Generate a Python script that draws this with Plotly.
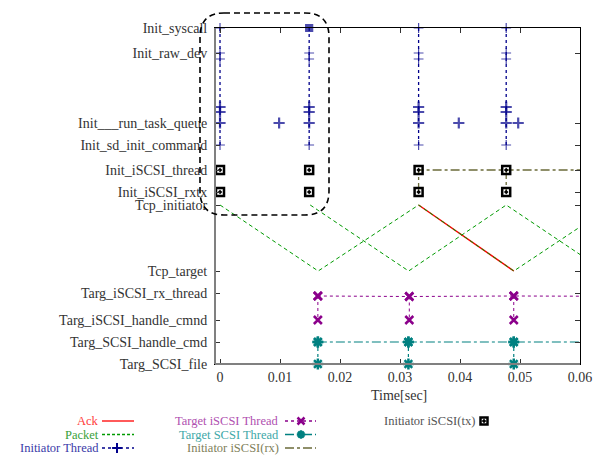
import plotly.graph_objects as go

W, H = 601, 458

# ---------------- data ----------------
row_labels = ["Targ_SCSI_file", "Targ_SCSI_handle_cmd", "Targ_iSCSI_handle_cmnd",
              "Targ_iSCSI_rx_thread", "Tcp_target", "Tcp_initiator", "Init_iSCSI_rxtx",
              "Init_iSCSI_thread", "Init_sd_init_command", "Init___run_task_queue",
              "Init_raw_dev", "Init_syscall"]
row_pos = [0, 22, 44, 71, 93, 159, 172, 194, 219, 241, 311, 336]

x_tickvals = [0, 0.01, 0.02, 0.03, 0.04, 0.05, 0.06]
x_ticktext = ["0", "0.01", "0.02", "0.03", "0.04", "0.05", "0.06"]

# Initiator thread: vertical clusters of events
init_cluster_times = [0.0, 0.01486, 0.0331, 0.0477]
init_cluster_levels = [336, 311, 305, 257, 252, 241, 219]
init_single_times = [0.00985, 0.0398, 0.0497]
init_single_level = 241

# Initiator iSCSI(tx)
tx_times = [0.0, 0.01486, 0.0331, 0.0477]
tx_levels = [194, 172]

# Initiator iSCSI(rx)
rx_t = [0.0331, 0.0331, 0.066, None, 0.0477, 0.0477]
rx_y = [172, 194, 194, None, 194, 172]

# Ack / Packet
ack_t = [0.0331, 0.04897]
ack_y = [159, 93]
packet_a_t = [0.0, 0.01636, 0.0331, 0.04897, 0.0655]
packet_a_y = [159, 93, 159, 93, 159]
packet_b_t = [0.01503, 0.03144, 0.0477, 0.0641]
packet_b_y = [159, 93, 159, 93]

# Target iSCSI thread
tiscsi_times = [0.01631, 0.03155, 0.04896]
tiscsi_rx_y = [68, 67.5, 68]
tiscsi_handle_y = 44
tiscsi_end_t, tiscsi_end_y = 0.066, 67.7

# Target SCSI thread
tscsi_times = [0.01631, 0.0314, 0.04896]
tscsi_top_y = 22
tscsi_bot_y = 0
tscsi_end_t = 0.066

# ---------------- styles ----------------
FONT = "Liberation Serif"
NAVY = "#00008b"
RED = "#ff0000"
GREEN = "#009a00"
PURPLE = "#8b008b"
TEAL = "#008080"
OLIVE = "#6b6b3a"

X0, X1 = 215, 580
Y0, Y1 = 28, 364


def px(x):
    return x / W


def py(y):
    return 1 - y / H


fig = go.Figure()

# Ack
fig.add_trace(go.Scatter(x=ack_t, y=ack_y, mode="lines",
                         line=dict(color=RED, width=1.5), showlegend=False))
# Packet
pk_t = packet_a_t + [None] + packet_b_t
pk_y = packet_a_y + [None] + packet_b_y
fig.add_trace(go.Scatter(x=pk_t, y=pk_y, mode="lines",
                         line=dict(color=GREEN, width=1, dash="4px,3px"), showlegend=False))

# Initiator thread
it_t, it_y, it_w, it_s, it_sz = [], [], [], [], []
bold = {257, 252, 241}
for ci, c in enumerate(init_cluster_times):
    for lv in init_cluster_levels:
        it_t.append(c)
        it_y.append(lv)
        it_w.append(2.2 if lv in bold else 1.2)
        if ci == 1 and lv == init_cluster_levels[0]:
            it_s.append("square")
            it_sz.append(7)
        else:
            it_s.append("cross-thin")
            it_sz.append(8 if lv in bold else 7)
    it_t.append(None); it_y.append(None); it_w.append(1); it_s.append("cross-thin"); it_sz.append(7)
for s in init_single_times:
    it_t.append(s); it_y.append(init_single_level); it_w.append(2.2); it_s.append("cross-thin"); it_sz.append(8)
    it_t.append(None); it_y.append(None); it_w.append(1); it_s.append("cross-thin"); it_sz.append(7)
fig.add_trace(go.Scatter(x=it_t, y=it_y, mode="lines+markers", cliponaxis=False,
                         line=dict(color=NAVY, width=1.3, dash="dot"),
                         marker=dict(symbol=it_s, size=it_sz, color=NAVY,
                                     line=dict(color=NAVY, width=it_w)),
                         showlegend=False))

# Initiator iSCSI(rx)
fig.add_trace(go.Scatter(x=rx_t, y=rx_y, mode="lines",
                         line=dict(color=OLIVE, width=1.3, dash="dashdot"), showlegend=False))

# Initiator iSCSI(tx)
tx_t, tx_y = [], []
for t in tx_times:
    for lv in tx_levels:
        tx_t.append(t)
        tx_y.append(lv)
fig.add_trace(go.Scatter(x=tx_t, y=tx_y, mode="markers", cliponaxis=False,
                         marker=dict(symbol="square-open-dot", size=8, color="black",
                                     line=dict(color="black", width=2.5)),
                         showlegend=False))

# Target iSCSI thread
ti_t = tiscsi_times + [tiscsi_end_t]
ti_y = tiscsi_rx_y + [tiscsi_end_y]
for t, yv in zip(tiscsi_times, tiscsi_rx_y):
    ti_t += [None, t, t]
    ti_y += [None, yv, tiscsi_handle_y]
fig.add_trace(go.Scatter(x=ti_t, y=ti_y, mode="lines+markers", cliponaxis=False,
                         line=dict(color=PURPLE, width=1, dash="dot"),
                         marker=dict(symbol="x-thin", size=8, color=PURPLE,
                                     line=dict(color=PURPLE, width=2.5)),
                         showlegend=False))

# Target SCSI thread
ts_t = tscsi_times + [tscsi_end_t]
ts_y = [tscsi_top_y] * len(tscsi_times) + [tscsi_top_y]
for t in tscsi_times:
    ts_t += [None, t, t]
    ts_y += [None, tscsi_top_y, tscsi_bot_y]
fig.add_trace(go.Scatter(x=ts_t, y=ts_y, mode="lines+markers", cliponaxis=False,
                         line=dict(color=TEAL, width=1.2, dash="dashdot"),
                         marker=dict(symbol="asterisk-open", size=9, color=TEAL,
                                     line=dict(color=TEAL, width=2.5)),
                         showlegend=False))

# ---------------- custom legend (aux axes in figure pixels) ----------------
legend_rows = [421, 434.5, 448]
leg_items = [
    # text, text colour, text right x, row, line x0, x1, line colour, dash, marker
    ("Ack", "#ff3a3a", 100, 0, 102, 134, RED, "solid", None),
    ("Packet", "#3a9f3a", 100, 1, 102, 134, GREEN, "3px,2px", None),
    ("Initiator Thread", "#3a3aa8", 100, 2, 102, 134, NAVY, "dot", ("cross-thin", NAVY, 117)),
    ("Target iSCSI Thread", "#b050b0", 280, 0, 285, 316, PURPLE, "dot", ("x-thin", PURPLE, 301)),
    ("Target SCSI Thread", "#40a8a8", 280, 1, 285, 316, TEAL, "dashdot", ("asterisk-open", TEAL, 301)),
    ("Initiator iSCSI(rx)", "#80805a", 280, 2, 285, 316, OLIVE, "dashdot", None),
    ("Initiator iSCSI(tx)", "#555555", 476, 0, None, None, None, None, ("square-open-dot", "black", 484)),
]
annotations = []
for txt, tcol, tx_r, row, lx0, lx1, lcol, dash, mk in leg_items:
    yy = legend_rows[row]
    annotations.append(dict(text=txt, x=px(tx_r), y=py(yy), xref="paper", yref="paper",
                            xanchor="right", yanchor="middle", showarrow=False, borderpad=0,
                            font=dict(family=FONT, size=12.5, color=tcol)))
    if lx0 is not None:
        fig.add_trace(go.Scatter(x=[lx0, lx1], y=[yy, yy], mode="lines", xaxis="x2", yaxis="y2",
                                 line=dict(color=lcol, width=1.3, dash=dash), showlegend=False,
                                 hoverinfo="skip"))
    if mk is not None:
        sym, mcol, mx = mk
        lw = 2.5 if sym != "cross-thin" else 2
        fig.add_trace(go.Scatter(x=[mx], y=[yy], mode="markers", xaxis="x2", yaxis="y2",
                                 marker=dict(symbol=sym, size=7, color=mcol,
                                             line=dict(color=mcol, width=lw)),
                                 showlegend=False, hoverinfo="skip"))

annotations.append(dict(text="Time[sec]", x=px(399), y=py(395), xref="paper", yref="paper",
                        xanchor="center", yanchor="middle", showarrow=False,
                        font=dict(family=FONT, size=14, color="#333333")))

# ---------------- shapes ----------------
shapes = []
# gray left / bottom axis lines
shapes.append(dict(type="line", xref="paper", yref="paper", x0=px(X0), x1=px(X0),
                   y0=py(Y0), y1=py(Y1), line=dict(color="#808080", width=2), layer="above"))
shapes.append(dict(type="line", xref="paper", yref="paper", x0=px(X0), x1=px(X1),
                   y0=py(Y1), y1=py(Y1), line=dict(color="#808080", width=2), layer="above"))
# dashed rounded rectangle
rx0, rx1, ry0, ry1, r = 200, 329, 13, 215, 24
pts = [
    ("M", rx0 + r, ry0), ("L", rx1 - r, ry0), ("Q", rx1, ry0, rx1, ry0 + r),
    ("L", rx1, ry1 - r), ("Q", rx1, ry1, rx1 - r, ry1), ("L", rx0 + r, ry1),
    ("Q", rx0, ry1, rx0, ry1 - r), ("L", rx0, ry0 + r), ("Q", rx0, ry0, rx0 + r, ry0),
]
path = ""
for p in pts:
    cmd = p[0]
    coords = p[1:]
    s = []
    for i in range(0, len(coords), 2):
        s.append(f"{px(coords[i]):.5f},{py(coords[i + 1]):.5f}")
    path += cmd + " " + " ".join(s) + " "
path += "Z"
shapes.append(dict(type="path", path=path, xref="paper", yref="paper",
                   line=dict(color="black", width=1.6, dash="6px,4px"), layer="above"))

fig.update_layout(
    width=W, height=H,
    margin=dict(l=0, r=0, t=0, b=0),
    paper_bgcolor="white", plot_bgcolor="rgba(0,0,0,0)",
    font=dict(family=FONT, size=14, color="#333333"),
    xaxis=dict(domain=[px(X0), px(X1)], range=[-0.000835, 0.06],
               tickvals=x_tickvals, ticktext=x_ticktext,
               ticks="inside", ticklen=5, tickcolor="#333333", tickwidth=1,
               showline=True, linecolor="black", linewidth=1, mirror="ticks",
               showgrid=False, zeroline=False, automargin=False,
               tickfont=dict(family=FONT, size=14, color="#333333")),
    yaxis=dict(domain=[py(Y1), py(Y0)], range=[0, 336],
               tickvals=row_pos, ticktext=row_labels,
               ticks="inside", ticklen=5, tickcolor="#333333", tickwidth=1,
               showline=True, linecolor="black", linewidth=1, mirror="ticks",
               showgrid=False, zeroline=False, automargin=False, ticklabelstandoff=4,
               tickfont=dict(family=FONT, size=14, color="#333333")),
    xaxis2=dict(domain=[0, 1], range=[0, W], anchor="y2", visible=False, fixedrange=True),
    yaxis2=dict(domain=[0, 1], range=[H, 0], anchor="x2", visible=False, fixedrange=True),
    annotations=annotations,
    shapes=shapes,
    showlegend=False,
)

fig.write_html("out.html", config={"displayModeBar": False},
               post_script="document.body.style.margin='0';")
